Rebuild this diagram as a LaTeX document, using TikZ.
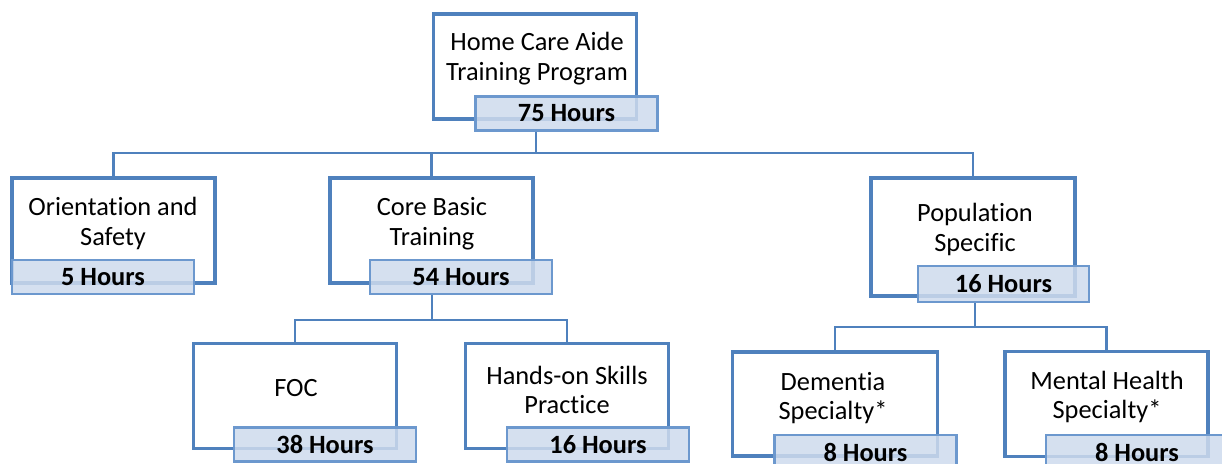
\documentclass[tikz,border=0pt]{standalone}
\usepackage{fontspec}
\setmainfont{Carlito}[RawFeature={-liga;-clig;-calt}]
\usepackage{tikz}

\definecolor{boxblue}{RGB}{79,129,189}
\definecolor{tagblue}{RGB}{108,152,206}
\definecolor{tagfill}{RGB}{206,219,237}

\tikzset{
  box/.style={draw=boxblue, line width=2.2pt, fill=white, minimum width=4.06cm, minimum height=2.1cm, inner sep=0pt},
  tag/.style={draw=tagblue, line width=1.3pt, fill=tagfill, fill opacity=0.85, text opacity=1,
    minimum width=3.64cm, minimum height=0.68cm, inner sep=0pt, font=\fontsize{15}{17}\selectfont\bfseries},
  title/.style={align=center},
  link/.style={draw=boxblue, line width=1.6pt},
}

\begin{document}
\begin{tikzpicture}[x=0.02cm, y=-0.02cm, font=\fontsize{15}{17}\selectfont]
    \useasboundingbox (0,0) rectangle (1222,463);

    % bus points
    \coordinate (hbus) at (536,153);
    \coordinate (cbus) at (432,320);
    \coordinate (pbus) at (975,327);

    % outer boxes
    \node[box] (home) at (535,66.5) {};
    \node[box] (orient) at (113.5,230.5) {};
    \node[box] (core) at (431.5,230.5) {};
    \node[box, minimum width=4.08cm, minimum height=2.36cm] (pop) at (973,237) {};
    \node[box] (foc) at (295,396) {};
    \node[box] (hands) at (567,396) {};
    \node[box, minimum width=4.1cm, minimum height=2.08cm] (dem) at (835,404) {};
    \node[box] (ment) at (1106.5,404) {};

    % titles
    \node[title] (homet) at (537,59) {Home Care Aide\\Training Program};
    \node[title] (orientt) at (113,223.5) {Orientation and\\Safety};
    \node[title] (coret) at (432,223.5) {Core Basic\\Training};
    \node[title] (popt) at (975,229.5) {Population\\Specific};
    \node[title] (foct) at (296,388) {FOC};
    \node[title] (handst) at (567,390) {Hands-on Skills\\Practice};
    \node[title] (demt) at (833,398) {Dementia\\Specialty*};
    \node[title] (mentt) at (1107,397) {Mental Health\\Specialty*};

    % hour tags
    \node[tag] (homel) at (566.5,113.5) {75 Hours};
    \node[tag] (orientl) at (103,277) {5 Hours};
    \node[tag] (corel) at (461,277) {54 Hours};
    \node[tag, minimum width=3.42cm, minimum height=0.72cm] (popl) at (1003.5,284) {16 Hours};
    \node[tag] (focl) at (325,444.5) {38 Hours};
    \node[tag] (handsl) at (598,444.5) {16 Hours};
    \node[tag] (deml) at (865.5,452) {8 Hours};
    \node[tag] (mentl) at (1137,452) {8 Hours};

    % connectors
    \draw[link] (hbus |- homel.south) -- (hbus);
    \draw[link] (hbus) -| (orient.north);
    \draw[link] (hbus) -| (core.north);
    \draw[link] (hbus) -| (pop.north);

    \draw[link] (cbus |- corel.south) -- (cbus);
    \draw[link] (cbus) -| (foc.north);
    \draw[link] (cbus) -| (hands.north);

    \draw[link] (pbus |- popl.south) -- (pbus);
    \draw[link] (pbus) -| (dem.north);
    \draw[link] (pbus) -| (ment.north);
\end{tikzpicture}
\end{document}
